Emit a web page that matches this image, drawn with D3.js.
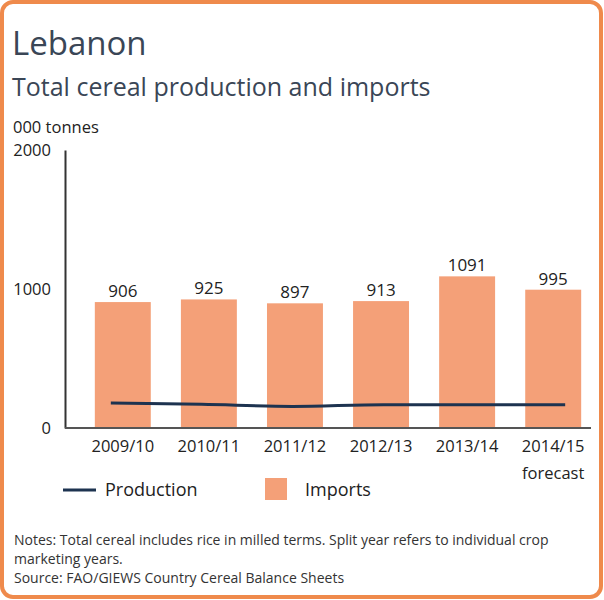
<!DOCTYPE html>
<html>
<head>
<meta charset="utf-8">
<script src="https://cdn.jsdelivr.net/npm/d3@7"></script>
<style>
  body { margin: 0; background: #fff; }
  text { font-family: "Open Sans", "Noto Sans", sans-serif; }
</style>
</head>
<body>
<svg width="604" height="600"></svg>
<script>
const years = ['2009/10', '2010/11', '2011/12', '2012/13', '2013/14', '2014/15'];
const imports = [906, 925, 897, 913, 1091, 995];
const production = [180, 170, 155, 168, 168, 168];
const yTicks = [0, 1000, 2000];

const svg = d3.select('svg');
const dark = '#3a4656';

// frame
svg.append('rect')
  .attr('x', 2).attr('y', 2)
  .attr('width', 599).attr('height', 595)
  .attr('rx', 11)
  .attr('fill', '#fff')
  .attr('stroke', '#ef8a4c')
  .attr('stroke-width', 4);

svg.append('text').attr('x', 12).attr('y', 55)
  .attr('font-size', 33).attr('fill', dark).text('Lebanon');
svg.append('text').attr('x', 12).attr('y', 96)
  .attr('font-size', 25).attr('fill', dark).text('Total cereal production and imports');
svg.append('text').attr('x', 13).attr('y', 133)
  .attr('font-size', 16.5).attr('fill', '#222').text('000 tonnes');

const x = d3.scaleBand().domain(years).range([69, 607]).paddingInner(0.35).paddingOuter(0.3);
const y = d3.scaleLinear().domain([0, 2000]).range([428, 150]);

// bars
svg.selectAll('rect.bar')
  .data(years)
  .enter().append('rect')
  .attr('class', 'bar')
  .attr('x', d => x(d))
  .attr('y', (d, i) => y(imports[i]))
  .attr('width', x.bandwidth())
  .attr('height', (d, i) => y(0) - y(imports[i]))
  .attr('fill', '#f4a078');

svg.selectAll('text.val')
  .data(years)
  .enter().append('text')
  .attr('class', 'val')
  .attr('x', d => x(d) + x.bandwidth() / 2)
  .attr('y', (d, i) => y(imports[i]) - 5)
  .attr('text-anchor', 'middle')
  .attr('font-size', 17)
  .attr('fill', '#222')
  .text((d, i) => imports[i]);

// production line
const xl = d3.scalePoint().domain(years).range([x(years[0]) + 16, x(years[5]) + x.bandwidth() - 16]);
svg.append('path')
  .datum(years)
  .attr('fill', 'none')
  .attr('stroke', '#1d3350')
  .attr('stroke-width', 3)
  .attr('d', d3.line().x(d => xl(d)).y((d, i) => y(production[i])).curve(d3.curveMonotoneX));

// axes
const yAxis = svg.append('g').attr('transform', 'translate(65,0)')
  .call(d3.axisLeft(y).tickValues(yTicks).tickSize(0).tickPadding(14).tickFormat(d3.format('d')));
yAxis.select('.domain').attr('stroke', '#333').attr('stroke-width', 2);
yAxis.selectAll('text').attr('font-size', 16.5).attr('fill', '#222')
  .attr('font-family', '"Open Sans", sans-serif');

svg.append('line')
  .attr('x1', 65).attr('x2', 591)
  .attr('y1', y(0)).attr('y2', y(0))
  .attr('stroke', '#555').attr('stroke-width', 2);

const xAxis = svg.append('g').attr('transform', 'translate(0,' + y(0) + ')')
  .call(d3.axisBottom(x).tickSize(0).tickPadding(12));
xAxis.select('.domain').remove();
xAxis.selectAll('text').attr('font-size', 16.5).attr('fill', '#222')
  .attr('font-family', '"Open Sans", sans-serif');

svg.append('text')
  .attr('x', x(years[5]) + x.bandwidth() / 2).attr('y', 479)
  .attr('text-anchor', 'middle').attr('font-size', 16.5).attr('fill', '#222')
  .text('forecast');

// legend
svg.append('line').attr('x1', 63).attr('x2', 96).attr('y1', 490).attr('y2', 490)
  .attr('stroke', '#1d3350').attr('stroke-width', 3);
svg.append('text').attr('x', 105).attr('y', 496).attr('font-size', 18).attr('fill', '#222').text('Production');
svg.append('rect').attr('x', 265).attr('y', 478).attr('width', 22).attr('height', 22).attr('fill', '#f4a078');
svg.append('text').attr('x', 305).attr('y', 496).attr('font-size', 18).attr('fill', '#222').text('Imports');

// notes
const notes = [
  'Notes: Total cereal includes rice in milled terms. Split year refers to individual crop',
  'marketing years.',
  'Source: FAO/GIEWS Country Cereal Balance Sheets'
];
svg.selectAll('text.note')
  .data(notes)
  .enter().append('text')
  .attr('class', 'note')
  .attr('x', 14)
  .attr('y', (d, i) => 545 + i * 19)
  .attr('font-size', 14)
  .attr('fill', '#333')
  .text(d => d);
</script>
</body>
</html>
